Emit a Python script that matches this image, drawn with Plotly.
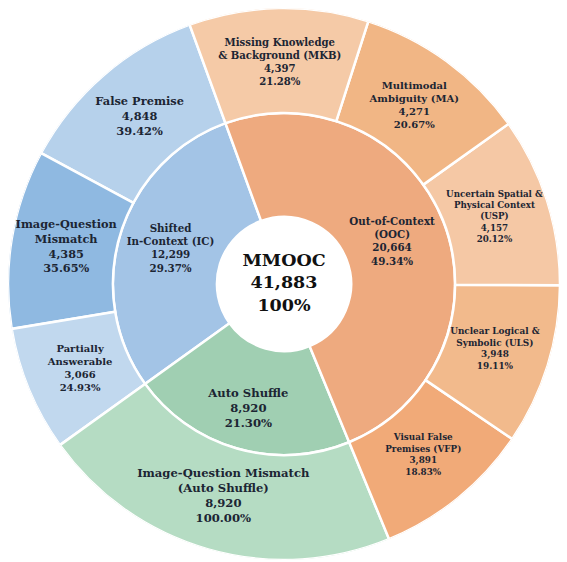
import numpy as np
import plotly.graph_objects as go

# data
root_label = "MMOOC"
root_count = 41883

inner_labels = ["Shifted<br>In-Context (IC)", "Auto Shuffle", "Out-of-Context<br>(OOC)"]
inner_counts = [12299, 8920, 20664]
inner_colors = ["#a3c4e6", "#a0cfb2", "#eeaa7f"]

outer_parent = [0, 0, 0, 1, 2, 2, 2, 2, 2]
outer_labels = [
    "False Premise",
    "Image-Question<br>Mismatch",
    "Partially<br>Answerable",
    "Image-Question Mismatch<br>(Auto Shuffle)",
    "Visual False<br>Premises (VFP)",
    "Unclear Logical &<br>Symbolic (ULS)",
    "Uncertain Spatial &<br>Physical Context<br>(USP)",
    "Multimodal<br>Ambiguity (MA)",
    "Missing Knowledge<br>& Background (MKB)",
]
outer_counts = [4848, 4385, 3066, 8920, 3891, 3948, 4157, 4271, 4397]
outer_colors = ["#b6d1eb", "#8fb9e1", "#c1d8ee", "#b5dcc3",
                "#f1aa78", "#f2ba8c", "#f5c8a5", "#f1b685", "#f5caa7"]

TEXT = "#1c2533"
FONT = "DejaVu Serif"
START = 110  # where the first slice begins (deg, counterclockwise)

R_HOLE, R_MID, R_OUT = 0.243, 0.62, 1.0


def arcs(counts):
    counts = np.asarray(counts, dtype=float)
    w = counts / root_count * 360.0
    c = np.cumsum(w) - w / 2
    return c, w


in_theta, in_width = arcs(inner_counts)
out_theta, out_width = arcs(outer_counts)

inner_text = [
    f"<b>{lab}<br>{n:,}<br>{n / root_count * 100:.2f}%</b>"
    for lab, n in zip(inner_labels, inner_counts)
]
outer_text = []
for lab, n, p in zip(outer_labels, outer_counts, outer_parent):
    pct = n / inner_counts[p] * 100
    outer_text.append(f"<b>{lab}<br>{n:,}<br>{pct:.2f}%</b>")

# label sizes differ per wedge, like in the original
outer_sizes = [11.4, 11.3, 10, 11.6, 8.8, 8.9, 8.7, 10, 10.1]
inner_sizes = [10.3, 11.6, 10.3]

fig = go.Figure()

fig.add_trace(go.Barpolar(
    theta=in_theta, width=in_width,
    r=[R_MID - R_HOLE] * len(inner_counts), base=R_HOLE,
    marker=dict(color=inner_colors, line=dict(color="white", width=2.5)),
    hoverinfo="skip",
))
fig.add_trace(go.Barpolar(
    theta=out_theta, width=out_width,
    r=[R_OUT - R_MID] * len(outer_counts), base=R_MID,
    marker=dict(color=outer_colors, line=dict(color="white", width=2.5)),
    hoverinfo="skip",
))

fig.add_trace(go.Scatterpolar(
    theta=in_theta, r=[0.43, 0.47, 0.42], mode="text",
    text=inner_text, textposition="middle center",
    textfont=dict(family=FONT, size=inner_sizes, color=TEXT),
    hoverinfo="skip",
))
fig.add_trace(go.Scatterpolar(
    theta=out_theta, r=[0.8] * len(outer_counts), mode="text",
    text=outer_text, textposition="middle center",
    textfont=dict(family=FONT, size=outer_sizes, color=TEXT),
    hoverinfo="skip",
))
fig.add_trace(go.Scatterpolar(
    theta=[0], r=[0], mode="text",
    text=[f"<b>{root_label}<br>{root_count:,}<br>100%</b>"],
    textposition="middle center",
    textfont=dict(family=FONT, size=17.5, color="#111111"),
    hoverinfo="skip",
))

# page body adds an 8px offset, so the figure is sized to land the circle
# where the original sits (outer ring slightly cut at the bottom)
fig.update_layout(
    width=559,
    height=562,
    margin=dict(l=0, r=7, t=0, b=10),
    paper_bgcolor="white",
    showlegend=False,
    polar=dict(
        bgcolor="white",
        bargap=0,
        radialaxis=dict(range=[0, 1], visible=False),
        angularaxis=dict(visible=False, rotation=START, direction="counterclockwise"),
    ),
)

fig.write_html("out.html")
